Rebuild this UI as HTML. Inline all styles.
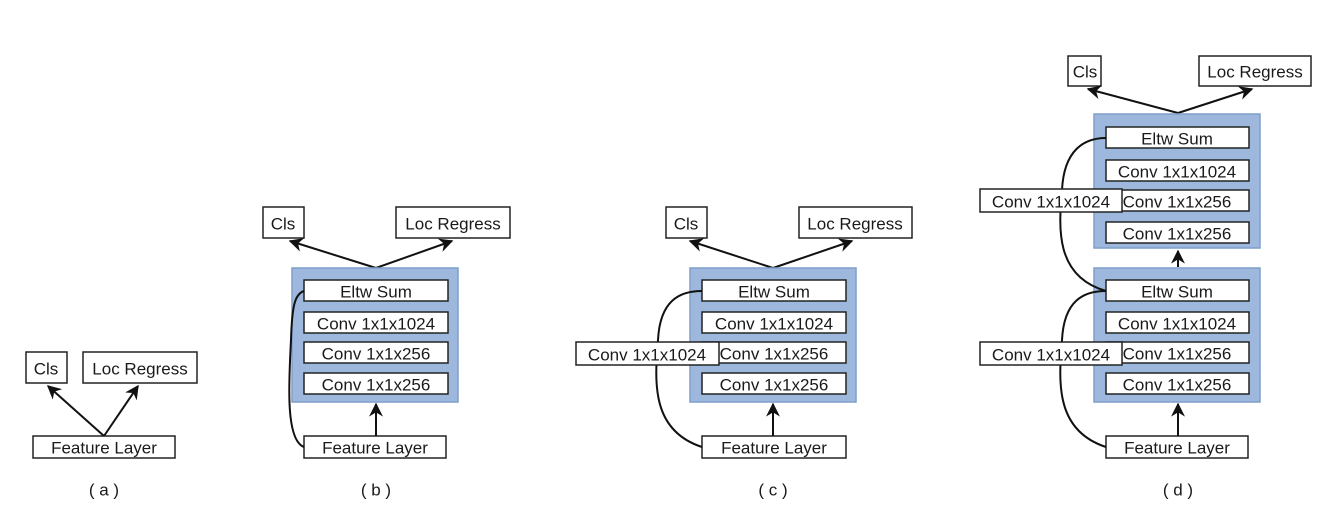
<!DOCTYPE html>
<html><head><style>
body{margin:0;background:#fff}
svg text{font-family:"Liberation Sans",sans-serif;font-size:17px;fill:#1a1a1a;text-anchor:middle;dominant-baseline:central}
.b{fill:#fff;stroke:#222;stroke-width:1.5}
.blue{fill:#9db8dc;stroke:#7f9fcb;stroke-width:1.5}
.l{stroke:#111;stroke-width:2;fill:none}
</style></head><body>
<svg width="1318" height="518" viewBox="0 0 1318 518">
<defs><marker id="a" viewBox="0 0 10 10" refX="9" refY="5" markerWidth="7" markerHeight="7" orient="auto"><path d="M0,0 L10,5 L0,10 L3,5z" fill="#111"/></marker></defs>

<!-- (a) -->
<rect class="b" x="26" y="352" width="41" height="31"/><text x="46" y="369">Cls</text>
<rect class="b" x="83" y="352" width="114" height="31"/><text x="140" y="369">Loc Regress</text>
<rect class="b" x="33" y="436" width="142" height="22"/><text x="104" y="448">Feature Layer</text>
<path class="l" d="M104,436 L48,386" marker-end="url(#a)"/>
<path class="l" d="M104,436 L138,386" marker-end="url(#a)"/>
<text x="104" y="490" font-size="14">( a )</text>

<!-- (b) -->
<rect class="b" x="263" y="207" width="41" height="31"/><text x="283" y="224">Cls</text>
<rect class="b" x="396" y="207" width="114" height="31"/><text x="453" y="224">Loc Regress</text>
<path class="l" d="M376,268 L290,241" marker-end="url(#a)"/>
<path class="l" d="M376,268 L452,241" marker-end="url(#a)"/>
<rect class="blue" x="292" y="268" width="166" height="134"/>
<rect class="b" x="304" y="280" width="144" height="21"/><text x="376" y="292">Eltw Sum</text>
<rect class="b" x="304" y="312" width="144" height="21"/><text x="376" y="324">Conv 1x1x1024</text>
<rect class="b" x="304" y="342" width="144" height="21"/><text x="376" y="354">Conv 1x1x256</text>
<rect class="b" x="304" y="373" width="144" height="21"/><text x="376" y="385">Conv 1x1x256</text>
<rect class="b" x="304" y="436" width="142" height="22"/><text x="375" y="448">Feature Layer</text>
<path class="l" d="M376,436 L376,404" marker-end="url(#a)"/>
<path class="l" d="M304,447 C285,440 289,380 291,340 C292,305 295,294 304,291"/>
<text x="376" y="490" font-size="14">( b )</text>

<!-- (c) -->
<rect class="b" x="666" y="207" width="41" height="31"/><text x="686" y="224">Cls</text>
<rect class="b" x="799" y="207" width="113" height="31"/><text x="855" y="224">Loc Regress</text>
<path class="l" d="M773,268 L690,241" marker-end="url(#a)"/>
<path class="l" d="M773,268 L852,241" marker-end="url(#a)"/>
<rect class="blue" x="690" y="268" width="166" height="134"/>
<rect class="b" x="702" y="280" width="144" height="21"/><text x="774" y="292">Eltw Sum</text>
<rect class="b" x="702" y="312" width="144" height="21"/><text x="774" y="324">Conv 1x1x1024</text>
<rect class="b" x="702" y="342" width="144" height="21"/><text x="774" y="354">Conv 1x1x256</text>
<rect class="b" x="702" y="373" width="144" height="21"/><text x="774" y="385">Conv 1x1x256</text>
<rect class="b" x="702" y="436" width="144" height="22"/><text x="774" y="448">Feature Layer</text>
<path class="l" d="M773,436 L773,404" marker-end="url(#a)"/>
<path class="l" d="M702,447 C650,430 655,380 658,340 C660,300 680,291 702,291"/>
<rect class="b" x="576" y="342" width="143" height="23"/><text x="647" y="355">Conv 1x1x1024</text>
<text x="773" y="490" font-size="14">( c )</text>

<!-- (d) -->
<rect class="b" x="1068" y="56" width="33" height="30"/><text x="1085" y="72">Cls</text>
<rect class="b" x="1199" y="56" width="112" height="30"/><text x="1255" y="72">Loc Regress</text>
<path class="l" d="M1178,113 L1088,89" marker-end="url(#a)"/>
<path class="l" d="M1178,113 L1252,89" marker-end="url(#a)"/>
<rect class="blue" x="1094" y="114" width="166" height="134"/>
<rect class="b" x="1106" y="127" width="143" height="21"/><text x="1177" y="139">Eltw Sum</text>
<rect class="b" x="1106" y="160" width="143" height="21"/><text x="1177" y="172">Conv 1x1x1024</text>
<rect class="b" x="1106" y="190" width="143" height="21"/><text x="1177" y="202">Conv 1x1x256</text>
<rect class="b" x="1106" y="222" width="143" height="21"/><text x="1177" y="234">Conv 1x1x256</text>
<path class="l" d="M1178,267 L1178,251" marker-end="url(#a)"/>
<rect class="blue" x="1094" y="268" width="166" height="134"/>
<rect class="b" x="1106" y="280" width="143" height="21"/><text x="1177" y="292">Eltw Sum</text>
<rect class="b" x="1106" y="312" width="143" height="21"/><text x="1177" y="324">Conv 1x1x1024</text>
<rect class="b" x="1106" y="342" width="143" height="21"/><text x="1177" y="354">Conv 1x1x256</text>
<rect class="b" x="1106" y="373" width="143" height="21"/><text x="1177" y="385">Conv 1x1x256</text>
<rect class="b" x="1106" y="436" width="142" height="22"/><text x="1177" y="448">Feature Layer</text>
<path class="l" d="M1178,436 L1178,404" marker-end="url(#a)"/>
<path class="l" d="M1106,447 C1054,430 1059,380 1062,340 C1064,300 1084,291 1106,291"/>
<path class="l" d="M1106,291 C1054,276 1059,226 1062,190 C1064,150 1084,138 1106,138"/>
<rect class="b" x="980" y="342" width="142" height="23"/><text x="1051" y="355">Conv 1x1x1024</text>
<rect class="b" x="980" y="189" width="142" height="23"/><text x="1051" y="202">Conv 1x1x1024</text>
<text x="1178" y="490" font-size="14">( d )</text>
</svg>
</body></html>
